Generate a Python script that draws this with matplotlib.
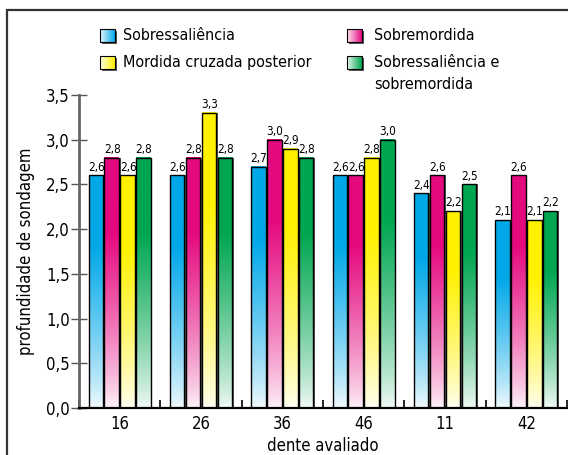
import numpy as np
import matplotlib
matplotlib.use('Agg')
import matplotlib.pyplot as plt
from matplotlib.patches import Rectangle
from matplotlib import font_manager

# =============================================================================
# Data
# =============================================================================
dentes = ['16', '26', '36', '46', '11', '42']
series_names = ['Sobressaliência', 'Sobremordida', 'Mordida cruzada posterior',
                'Sobressaliência e\nsobremordida']
sobressaliencia = [2.6, 2.6, 2.7, 2.6, 2.4, 2.1]
sobremordida = [2.8, 2.8, 3.0, 2.6, 2.6, 2.6]
mordida_cruzada = [2.6, 3.3, 2.9, 2.8, 2.2, 2.1]
sobress_sobrem = [2.8, 2.8, 2.8, 3.0, 2.5, 2.2]
yticks = [0.0, 0.5, 1.0, 1.5, 2.0, 2.5, 3.0, 3.5]

series = [sobressaliencia, sobremordida, mordida_cruzada, sobress_sobrem]
top_colors = ['#00a8e8', '#e5097f', '#fff100', '#00a651']

# look for a narrow / condensed font
cands = [f for f in font_manager.fontManager.ttflist
         if ('narrow' in f.fname.lower() or 'condensed' in f.fname.lower())
         and f.style == 'normal' and f.weight in (400, 'normal', 'regular')]
cands.sort(key=lambda f: (0 if 'Liberation' in f.name else 1 if 'DejaVu Sans' == f.name else 2))
if cands:
    plt.rcParams['font.family'] = [cands[0].name, 'DejaVu Sans']
    plt.rcParams['font.stretch'] = cands[0].stretch
else:
    plt.rcParams['font.family'] = ['DejaVu Sans']


def fmt(v):
    return ('%.1f' % v).replace('.', ',')


def vgrad(color, n=256):
    c = np.array(matplotlib.colors.to_rgb(color))
    t = np.linspace(0, 1, n)[:, None]
    t = np.clip(t / 0.7, 0, 1) ** 0.8
    low = 0.04 * c + 0.96
    rgb = low * (1 - t) + c * t
    return rgb[:, None, :]


def hgrad(color, n=64):
    c = np.array(matplotlib.colors.to_rgb(color))
    t = np.linspace(0, 1, n)[None, :, None]
    rgb = (0.1 * c + 0.9) * (1 - t) + c * t
    return rgb


W, H = 568, 455
fig = plt.figure(figsize=(W / 100, H / 100), dpi=100)
ax = fig.add_axes([79 / W, (H - 408) / H, (567 - 79) / W, (408 - 95) / H])

x = np.arange(len(dentes))
slot = 0.195
bw = 0.178
px = 1.0 / 81.3  # one pixel in x data units

for i, (vals, col) in enumerate(zip(series, top_colors)):
    pos = x + (i - 1.5) * slot
    # shadow on the right
    ax.bar(pos + 1.6 * px, vals, bw, color='#555555', zorder=1, linewidth=0)
    bars = ax.bar(pos, vals, bw, facecolor='none', edgecolor='black',
                  linewidth=1.0, zorder=3)
    g = vgrad(col)
    for b, v in zip(bars, vals):
        x0 = b.get_x()
        ax.imshow(g, extent=[x0, x0 + bw, 0, v], origin='lower',
                  aspect='auto', zorder=2, interpolation='bilinear')
        ax.text(x0 + bw / 2 + 0.5 * px, v + 0.02, fmt(v), ha='center',
                va='bottom', fontsize=8.5, zorder=4)

ax.set_xlim(-0.5, len(dentes) - 0.5)
ax.set_ylim(0, 3.5)
ax.set_yticks(yticks)
ax.set_yticklabels([fmt(v) for v in yticks], fontsize=12)
ax.set_xticks(x)
ax.set_xticklabels(dentes, fontsize=12)
ax.set_xticks(np.arange(len(dentes) + 1) - 0.5, minor=True)
ax.tick_params(axis='x', which='major', length=0, pad=5)
ax.tick_params(axis='x', which='minor', direction='in', length=6, width=1.2)
ax.tick_params(axis='y', direction='inout', length=11, width=1.0, color='#555555', pad=1)
for s in ['top', 'right']:
    ax.spines[s].set_visible(False)
ax.spines['left'].set_color('#666666')
ax.spines['left'].set_linewidth(2)
ax.spines['bottom'].set_linewidth(1.6)
ax.set_xlabel('dente avaliado', fontsize=12, labelpad=3)
ax.set_ylabel('profundidade de sondagem', fontsize=12, labelpad=8)
ax.set_facecolor('none')

# overlay in pixel coordinates for the frame and legend
ov = fig.add_axes([0, 0, 1, 1], zorder=-1)
ov.set_xlim(0, W)
ov.set_ylim(H, 0)
ov.axis('off')
ov.add_patch(Rectangle((7, 10), 600, 500, facecolor='white', edgecolor='#333333', linewidth=1.6))

ov2 = fig.add_axes([0, 0, 1, 1], zorder=5)
ov2.axis('off')
leg_pos = [(100, 29), (347, 29), (100, 56), (347, 56)]
for (lx, ly), name, col in zip(leg_pos, series_names, top_colors):
    ov2.add_patch(Rectangle((lx + 2, ly + 2), 15, 13, facecolor='#555555', linewidth=0))
    ov2.imshow(hgrad(col), extent=[lx, lx + 15, ly + 13, ly], aspect='auto',
               interpolation='bilinear', zorder=2)
    ov2.add_patch(Rectangle((lx, ly), 15, 13, facecolor='none', edgecolor='black',
                            linewidth=0.8, zorder=3))
    ov2.text(lx + 23 + (4 if lx > 300 else 0), ly - 1, name, fontsize=11.5, va='top',
             ha='left', linespacing=1.55)
ov2.set_xlim(0, W)
ov2.set_ylim(H, 0)

fig.savefig('out.png', dpi=100)
